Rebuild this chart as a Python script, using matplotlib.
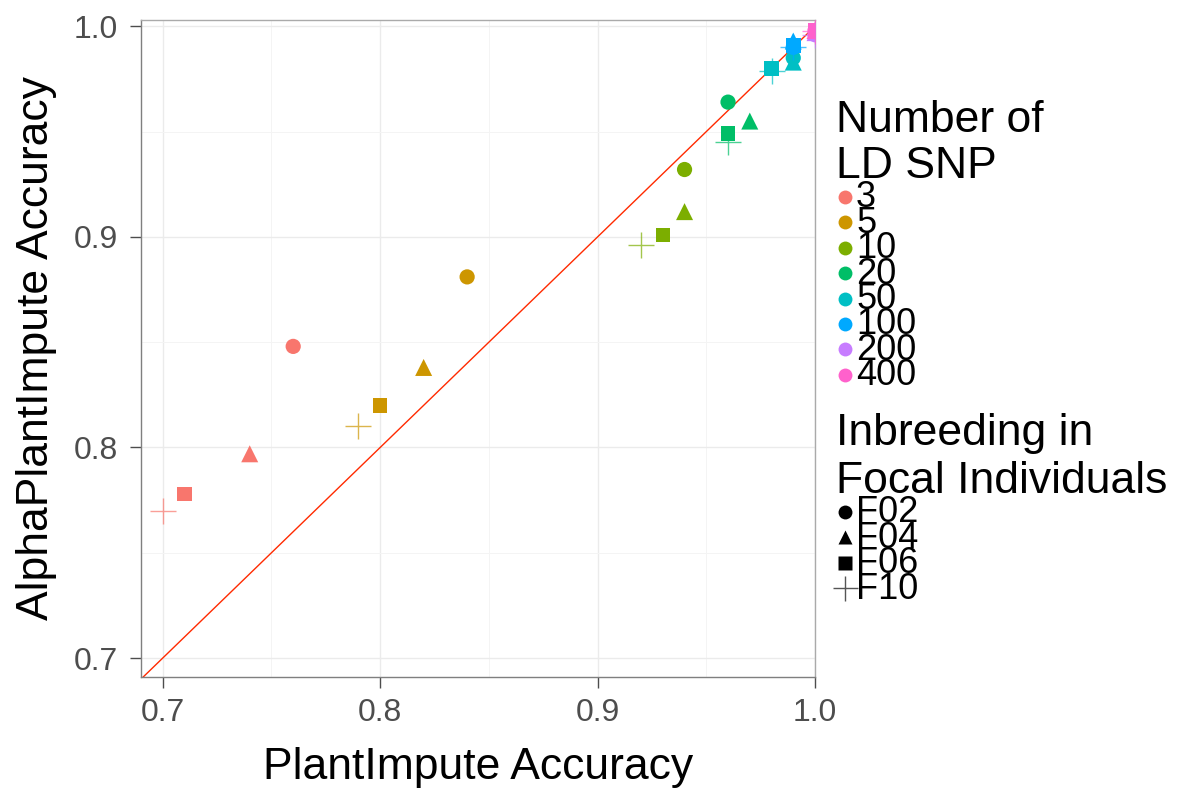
import matplotlib
matplotlib.use('Agg')
import matplotlib.pyplot as plt
from matplotlib.lines import Line2D
import numpy as np

plt.rcParams['font.family'] = ['Liberation Sans', 'DejaVu Sans']

snp_levels = ['3', '5', '10', '20', '50', '100', '200', '400']
snp_colors = ['#F8766D', '#CD9600', '#7CAE00', '#00BE67', '#00BFC4', '#00A9FF', '#C77CFF', '#FF61CC']
inbreeding = ['F02', 'F04', 'F06', 'F10']
shapes = ['o', '^', 's', '+']

# accuracy per SNP level, order F02, F04, F06, F10
plant_acc = {
    '3':   [0.76, 0.74, 0.71, 0.70],
    '5':   [0.84, 0.82, 0.80, 0.79],
    '10':  [0.94, 0.94, 0.93, 0.92],
    '20':  [0.96, 0.97, 0.96, 0.96],
    '50':  [0.99, 0.99, 0.98, 0.98],
    '100': [0.99, 0.99, 0.99, 0.99],
    '200': [1.00, 1.00, 1.00, 1.00],
    '400': [1.00, 1.00, 1.00, 1.00],
}
alpha_acc = {
    '3':   [0.848, 0.797, 0.778, 0.770],
    '5':   [0.881, 0.838, 0.820, 0.810],
    '10':  [0.932, 0.912, 0.901, 0.896],
    '20':  [0.964, 0.955, 0.949, 0.945],
    '50':  [0.985, 0.983, 0.980, 0.979],
    '100': [0.990, 0.993, 0.991, 0.990],
    '200': [0.996, 0.997, 0.997, 0.996],
    '400': [0.998, 0.998, 0.998, 0.998],
}

marker_size = {'o': 120, '^': 150, 's': 110, '+': 340}

W, H = 1178, 789
fig = plt.figure(figsize=(W / 100, H / 100), dpi=100)
ax = fig.add_axes([141 / W, 1 - 677 / H, (815 - 141) / W, (677 - 20) / H])

for lvl, col in zip(snp_levels, snp_colors):
    for i, shp in enumerate(shapes):
        if shp == '+':
            ax.scatter(plant_acc[lvl][i], alpha_acc[lvl][i], marker='+', s=marker_size[shp],
                       color=col, linewidths=1.0, alpha=0.7, zorder=3)
        else:
            ax.scatter(plant_acc[lvl][i], alpha_acc[lvl][i], marker=shp, s=marker_size[shp],
                       color=col, edgecolors='none', zorder=3)

ax.axline((0.69, 0.69), slope=1, color='#FF2A00', lw=1, zorder=2)

ax.set_xlim(0.69, 1.0)
ax.set_ylim(0.691, 1.003)
ticks = [0.7, 0.8, 0.9, 1.0]
ax.set_xticks(ticks)
ax.set_yticks(ticks)
ax.set_xticklabels(['0.7', '0.8', '0.9', '1.0'])
ax.set_yticklabels(['0.7', '0.8', '0.9', '1.0'])
ax.set_xticks([0.75, 0.85, 0.95], minor=True)
ax.set_yticks([0.75, 0.85, 0.95], minor=True)
ax.grid(True, which='major', color='#EBEBEB', lw=1.0, zorder=0)
ax.grid(True, which='minor', color='#F4F4F4', lw=0.7, zorder=0)
ax.set_axisbelow(True)
ax.tick_params(which='major', length=8, width=1, color='#4D4D4D',
               labelsize=23, labelcolor='#4D4D4D')
ax.tick_params(axis='x', pad=7)
ax.tick_params(axis='y', pad=8.5)
ax.tick_params(which='minor', length=0)
for sp in ax.spines.values():
    sp.set_color('#AAAAAA')
    sp.set_linewidth(1)
ax.spines['left'].set_color('#7F7F7F')
ax.spines['bottom'].set_color('#7F7F7F')

ax.set_xlabel('PlantImpute Accuracy', fontsize=32, labelpad=14)
ax.set_ylabel('AlphaPlantImpute Accuracy', fontsize=32, labelpad=12)


def fx(px):
    return px / W


def fy(py):
    return 1 - py / H


# legend: Number of LD SNP
fig.text(fx(836), fy(132), 'Number of', fontsize=32, va='baseline')
fig.text(fx(836), fy(178), 'LD SNP', fontsize=32, va='baseline')
for k, (lvl, col) in enumerate(zip(snp_levels, snp_colors)):
    yy = 197 + k * 25.4
    fig.add_artist(Line2D([fx(845)], [fy(yy)], marker='o', markersize=10,
                          color=col, markeredgecolor='none', linestyle='none'))
    fig.text(fx(856), fy(yy + 1), lvl, fontsize=26, va='center')

# legend: inbreeding
fig.text(fx(836), fy(445), 'Inbreeding in', fontsize=32, va='baseline')
fig.text(fx(836), fy(493), 'Focal Individuals', fontsize=32, va='baseline')
for k, (lab, shp) in enumerate(zip(inbreeding, shapes)):
    yy = 512 + k * 25.4
    if shp == '+':
        fig.add_artist(Line2D([fx(845)], [fy(yy)], marker='+', markersize=18,
                              color='#555555', markeredgewidth=1.0, linestyle='none'))
    else:
        fig.add_artist(Line2D([fx(845)], [fy(yy)], marker=shp, markersize=10,
                              color='black', markeredgecolor='none', linestyle='none'))
    fig.text(fx(856), fy(yy + 1), lab, fontsize=26, va='center')

fig.savefig('out.png', dpi=100)
